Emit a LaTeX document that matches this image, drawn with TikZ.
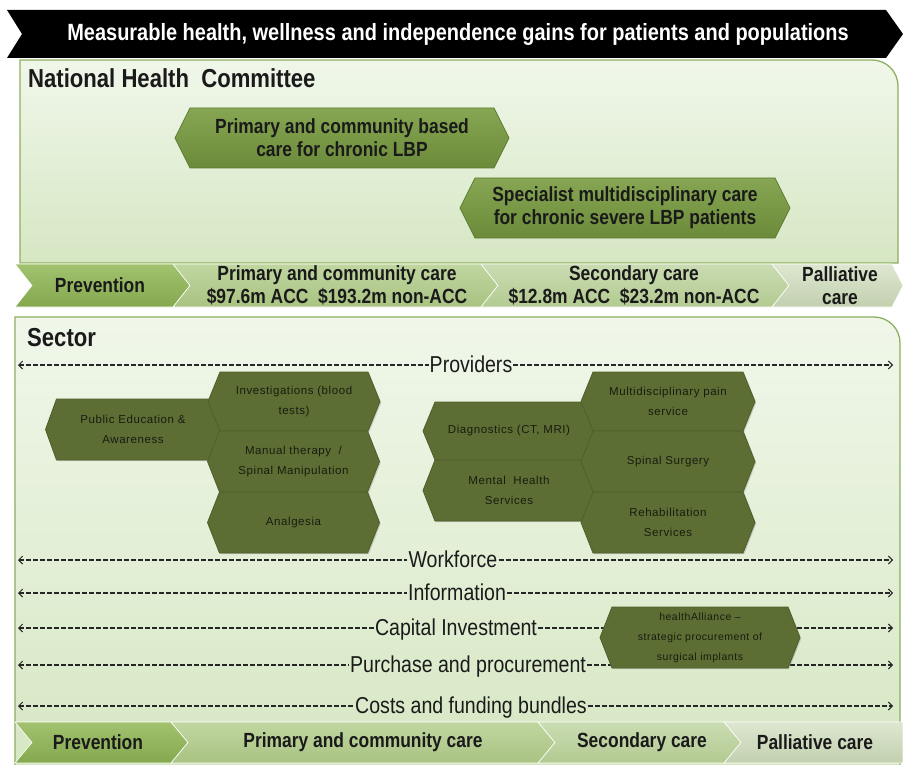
\documentclass[tikz,border=0pt]{standalone}
\usepackage{fontspec}
\setmainfont{Liberation Sans}
\newfontfamily\narrowfont{Liberation Sans}[FakeStretch=0.85]
\newfontfamily\hexfont{Liberation Sans}[LetterSpace=5]
\usetikzlibrary{arrows.meta,shadows}

\definecolor{panelline}{HTML}{8DAF5E}
\definecolor{paneltop}{HTML}{F0F7EA}
\definecolor{panelbot}{HTML}{D6E7C3}
\definecolor{nhchextop}{HTML}{86A653}
\definecolor{nhchexbot}{HTML}{6C8B3A}
\definecolor{nhchexline}{HTML}{5E7C33}
\definecolor{sechexfill}{HTML}{5D6E35}
\definecolor{sechexline}{HTML}{4F5F2B}
\definecolor{hexink}{HTML}{181C0E}
\definecolor{ink}{HTML}{1A1A1A}
\definecolor{dashink}{HTML}{262626}
\definecolor{prevtop}{HTML}{A2C26F}\definecolor{prevbot}{HTML}{84A84E}
\definecolor{primtop}{HTML}{C0D6A0}\definecolor{primbot}{HTML}{A9C382}
\definecolor{sectop}{HTML}{CADCB2}\definecolor{secbot}{HTML}{B3CA91}
\definecolor{palltop}{HTML}{DDE7D0}\definecolor{pallbot}{HTML}{C2D0AE}

\tikzset{
  panel/.style={draw=panelline, line width=1.3pt, top color=paneltop, bottom color=panelbot},
  bannerbox/.style={fill=black},
  bannertext/.style={text=white, font=\narrowfont\bfseries\fontsize{23.5}{26}\selectfont},
  titletext/.style={text=ink, inner sep=0pt, font=\narrowfont\bfseries\fontsize{26}{30}\selectfont},
  nhchex/.style={draw=nhchexline, line width=0.8pt, top color=nhchextop, bottom color=nhchexbot},
  nhchex text/.style={text=ink, align=center, inner sep=0pt, font=\narrowfont\bfseries\fontsize{20.5}{23}\selectfont},
  sechex/.style={draw=sechexline, line width=0.8pt, fill=sechexfill,
    drop shadow={shadow xshift=1.2pt, shadow yshift=-1.2pt, opacity=0.35}},
  sechex text/.style={text=hexink, align=center, inner sep=0pt, font=\hexfont\fontsize{11.5}{19.5}\selectfont},
  smallhex/.style={sechex},
  smallhex text/.style={text=hexink, align=center, inner sep=0pt, font=\hexfont\fontsize{10.5}{20}\selectfont},
  prevbar/.style={draw=white, line width=0.6pt, top color=prevtop, bottom color=prevbot},
  primbar/.style={draw=white, line width=0.6pt, top color=primtop, bottom color=primbot},
  secbar/.style={draw=white, line width=0.6pt, top color=sectop, bottom color=secbot},
  pallbar/.style={draw=white, line width=0.6pt, top color=palltop, bottom color=pallbot},
  bartext/.style={text=ink, align=center, inner sep=0pt, font=\narrowfont\bfseries\fontsize{20.5}{23}\selectfont},
  flowlabel/.style={text=ink, inner sep=1pt, anchor=base, font=\narrowfont\fontsize{23}{26}\selectfont},
  flow/.style={draw=dashink, line width=1.1pt, dash pattern=on 5pt off 2pt},
  barb/.tip={Straight Barb[length=4pt,width=8pt,line width=0.9pt]},
}

% hexagonal cell: name, cx, cy, half flat width, half height, tip depth, look, text
\newcommand\hexcell[8]{%
  \path[#7] (#2-#4,#3-#5) -- (#2+#4,#3-#5) -- (#2+#4+#6,#3) -- (#2+#4,#3+#5)
    -- (#2-#4,#3+#5) -- (#2-#4-#6,#3) -- cycle;
  \node[#7 text] (#1) at (#2,#3) {#8};}

% chevron of a stage bar: name, left x, right x, tip depth, look, label x, text
\newcommand\chev[7]{%
  \path[#5] (#2,\bartop) -- (#3,\bartop) -- (#3+#4,\barmid) -- (#3,\barbot)
    -- (#2,\barbot) -- (#2+\notchd,\barmid) -- cycle;
  \node[bartext] (#1) at (#6,\barmid) {#7};}

% dashed two-way flow with a label in the middle: name, y, label x, text
\newcommand\flowline[4]{%
  \node[flowlabel] (#1) at (#3,#2+7) {#4};
  \coordinate (#1-l) at (18,#2);
  \coordinate (#1-r) at (893,#2);
  \draw[flow, barb-] (#1-l) -- (#1.west |- #1-l);
  \draw[flow, -barb] (#1.east |- #1-r) -- (#1-r);}

\begin{document}
\begin{tikzpicture}[x=1pt, y=-1pt]
\useasboundingbox (0,0) rectangle (903,765);
\fill[white] (0,0) rectangle (903,765);

% ---------- National Health Committee panel ----------
\path[panel] (20,263) -- (20,60) -- (872,60)
  .. controls (886.4,60) and (898,71.6) .. (898,86) -- (898,263) -- cycle;

% ---------- outcome banner ----------
\path[bannerbox] (7,10) -- (886,10) -- (903,34) -- (886,58) -- (7,58) -- (22,34) -- cycle;
\node[bannertext] (outcome) at (458,34)
  {Measurable health, wellness and independence gains for patients and populations};

\node[titletext, anchor=base west] (nhc) at (28,88) {National Health\ \ Committee};

\hexcell{nhcprimary}{342}{138}{152}{30}{15}{nhchex}{Primary and community based\\care for chronic LBP}
\hexcell{nhcspecial}{625}{208}{150}{30}{15}{nhchex}{Specialist multidisciplinary care\\for chronic severe LBP patients}

% ---------- stage bar with funding ----------
\def\notchd{17}
\def\bartop{264}\def\barmid{285.5}\def\barbot{307}
\chev{tprev}{15}{173}{17}{prevbar}{100}{Prevention}
\chev{tprim}{173}{481}{17}{primbar}{337}{Primary and community care\\\$97.6m ACC\ \ \$193.2m non-ACC}
\chev{tsec}{481}{772}{17}{secbar}{634}{Secondary care\\\$12.8m ACC\ \ \$23.2m non-ACC}
\chev{tpall}{772}{892}{11}{pallbar}{840}{Palliative\\care}

% ---------- Sector panel ----------
\path[panel] (15,772) -- (15,317) -- (874,317)
  .. controls (888.4,317) and (900,328.6) .. (900,343) -- (900,772) -- cycle;
\node[titletext, anchor=base west] (sector) at (27,346) {Sector};

% enabling flows across the continuum
\flowline{providers}{365}{471}{Providers}
\flowline{workforce}{560}{453}{Workforce}
\flowline{information}{593}{457}{Information}
\flowline{capital}{628}{456}{Capital Investment}
\flowline{purchase}{665}{468}{Purchase and procurement}
\flowline{costs}{706}{471}{Costs and funding bundles}

% provider services
\hexcell{pubedu}{133}{429.5}{76.5}{30.5}{11}{sechex}{Public Education \&\\Awareness}
\hexcell{invest}{294}{401.5}{74}{29.5}{12}{sechex}{Investigations (blood\\tests)}
\hexcell{manual}{293.5}{461.5}{74}{30.5}{12}{sechex}{Manual therapy\ \ /\\Spinal Manipulation}
\hexcell{analgesia}{293.5}{522.5}{74}{30.5}{12}{sechex}{Analgesia}
\hexcell{diagnostics}{509}{431}{74}{29}{12}{sechex}{Diagnostics (CT, MRI)}
\hexcell{mental}{509}{490.5}{74}{30.5}{12}{sechex}{Mental\ \ Health\\Services}
\hexcell{painservice}{668}{401.5}{75}{29.5}{12}{sechex}{Multidisciplinary pain\\service}
\hexcell{surgery}{668}{461.5}{75}{30.5}{12}{sechex}{Spinal Surgery}
\hexcell{rehab}{668}{522.5}{75}{30.5}{12}{sechex}{Rehabilitation\\Services}
\hexcell{alliance}{700}{637.5}{88}{30.5}{12}{smallhex}{healthAlliance –\\strategic procurement of\\surgical implants}

% ---------- stage bar ----------
\def\bartop{722}\def\barmid{742.5}\def\barbot{763}
\chev{bprev}{15}{171}{17}{prevbar}{98}{Prevention}
\chev{bprim}{171}{538}{17}{primbar}{363}{Primary and community care}
\chev{bsec}{538}{724}{17}{secbar}{642}{Secondary care}
\chev{bpall}{724}{903}{0}{pallbar}{815}{Palliative care}
\end{tikzpicture}
\end{document}
